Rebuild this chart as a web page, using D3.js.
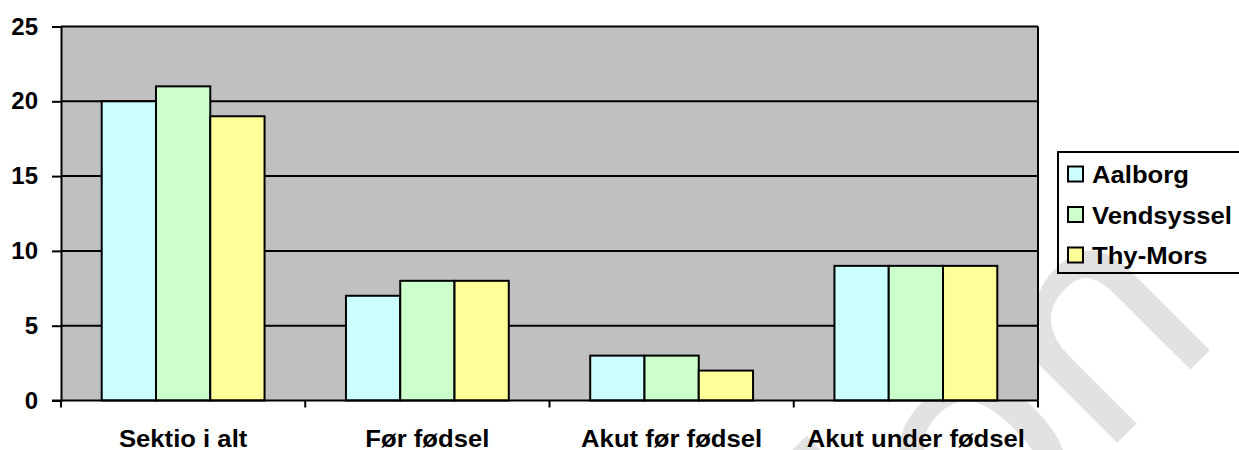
<!DOCTYPE html>
<html>
<head>
<meta charset="utf-8">
<script src="https://cdn.jsdelivr.net/npm/d3@7"></script>
<style>
  body { margin: 0; background: #fff; }
  text { font-family: "Liberation Sans", Arial, sans-serif; font-weight: bold; }
</style>
</head>
<body>
<div id="container"></div>
<script>
// Data
const categories = ["Sektio i alt", "Før fødsel", "Akut før fødsel", "Akut under fødsel"];
const series = ["Aalborg", "Vendsyssel", "Thy-Mors"];
const aalborg = [20, 7, 3, 9];
const vendsyssel = [21, 8, 3, 9];
const thyMors = [19, 8, 2, 9];
const yTicks = [0, 5, 10, 15, 20, 25];

const seriesValues = [aalborg, vendsyssel, thyMors];
const colors = ["#ccffff", "#ccffcc", "#ffff99"];

const width = 1239, height = 450;
const plotLeft = 61, plotRight = 1038, plotTop = 26.5, plotBottom = 400.5;
const fontSize = 24, stretch = 1.07;

const svg = d3.select("#container").append("svg")
  .attr("width", width).attr("height", height);

// Watermark (behind everything)
svg.append("text")
  .attr("transform", "translate(1224,336) rotate(-45)")
  .attr("text-anchor", "end")
  .style("font-weight", "normal")
  .style("font-size", "310px")
  .attr("fill", "#e2e2e2")
  .text("tion");

// Scales
const x0 = d3.scaleBand().domain(categories).range([plotLeft, plotRight]);
const cat = x0.bandwidth();
const x1 = d3.scaleBand().domain(series).range([cat / 6, cat * 5 / 6]);
const y = d3.scaleLinear().domain([0, 25]).range([plotBottom, plotTop]);

// Plot background
svg.append("rect")
  .attr("x", plotLeft).attr("y", plotTop)
  .attr("width", plotRight - plotLeft).attr("height", plotBottom - plotTop)
  .attr("fill", "#c0c0c0");

// Gridlines
svg.selectAll("line.grid")
  .data(yTicks.filter((d) => d > 0))
  .enter().append("line")
  .attr("x1", plotLeft).attr("x2", plotRight)
  .attr("y1", (d) => y(d)).attr("y2", (d) => y(d))
  .attr("stroke", "#000").attr("stroke-width", 2);

// Right border
svg.append("line")
  .attr("x1", plotRight).attr("x2", plotRight).attr("y1", plotTop).attr("y2", plotBottom)
  .attr("stroke", "#000").attr("stroke-width", 2);

// Bars
const groups = svg.selectAll("g.cat")
  .data(categories)
  .enter().append("g")
  .attr("transform", (d) => `translate(${x0(d)},0)`);

groups.selectAll("rect")
  .data((d, i) => series.map((s, j) => ({ s, j, v: seriesValues[j][i] })))
  .enter().append("rect")
  .attr("x", (d) => x1(d.s))
  .attr("y", (d) => y(d.v))
  .attr("width", x1.bandwidth())
  .attr("height", (d) => y(0) - y(d.v))
  .attr("fill", (d) => colors[d.j])
  .attr("stroke", "#000")
  .attr("stroke-width", 2);

// Y axis
const yAxis = svg.append("g")
  .attr("transform", `translate(${plotLeft},0)`)
  .call(d3.axisLeft(y).tickValues(yTicks).tickSize(9).tickPadding(14));
yAxis.select(".domain").attr("stroke-width", 2);
yAxis.selectAll(".tick line").attr("stroke-width", 2);
yAxis.selectAll(".tick text")
  .style("font-size", fontSize + "px")
  .attr("fill", "#000");

// X axis
const xAxis = svg.append("g")
  .attr("transform", `translate(0,${plotBottom})`);
xAxis.append("line")
  .attr("x1", plotLeft - 9).attr("x2", plotRight)
  .attr("stroke", "#000").attr("stroke-width", 2);
xAxis.selectAll("line.xt")
  .data(categories.concat(["end"]))
  .enter().append("line")
  .attr("x1", (d, i) => plotLeft + i * cat).attr("x2", (d, i) => plotLeft + i * cat)
  .attr("y1", 0).attr("y2", 7)
  .attr("stroke", "#000").attr("stroke-width", 2);
xAxis.selectAll("text")
  .data(categories)
  .enter().append("text")
  .attr("transform", (d) => `translate(${x0(d) + cat / 2},46) scale(${stretch},1)`)
  .attr("text-anchor", "middle")
  .style("font-size", fontSize + "px")
  .text((d) => d);

// Legend
const legend = svg.append("g");
legend.append("rect")
  .attr("x", 1058).attr("y", 152)
  .attr("width", 190).attr("height", 121)
  .attr("fill", "none").attr("stroke", "#000").attr("stroke-width", 2);
const items = legend.selectAll("g.item")
  .data(series)
  .enter().append("g")
  .attr("transform", (d, i) => `translate(1068,${174 + i * 40.5})`);
items.append("rect")
  .attr("x", 0).attr("y", -7.5)
  .attr("width", 15).attr("height", 15)
  .attr("fill", (d, i) => colors[i])
  .attr("stroke", "#000").attr("stroke-width", 2);
items.append("text")
  .attr("transform", `translate(24,9) scale(${stretch},1)`)
  .style("font-size", fontSize + "px")
  .text((d) => d);
</script>
</body>
</html>
